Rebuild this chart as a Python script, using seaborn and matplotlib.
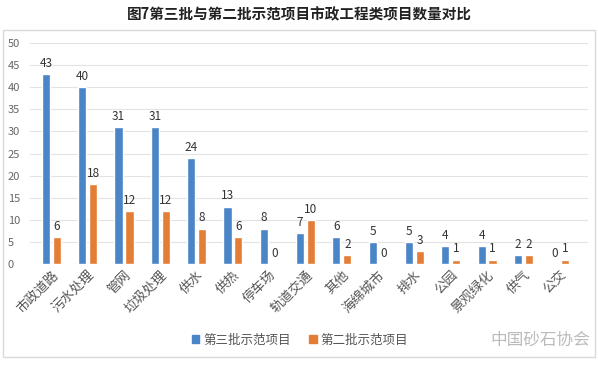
import pandas as pd
import matplotlib
matplotlib.use("Agg")
import matplotlib.pyplot as plt
import seaborn as sns
from matplotlib.patches import Rectangle

# ------------------------------------------------------
# Data
# ------------------------------------------------------
categories = ["市政道路", "污水处理", "管网", "垃圾处理", "供水", "供热", "停车场",
              "轨道交通", "其他", "海绵城市", "排水", "公园", "景观绿化", "供气", "公交"]
batch3 = [43, 40, 31, 31, 24, 13, 8, 7, 6, 5, 5, 4, 4, 2, 0]
batch2 = [6, 18, 12, 12, 8, 6, 0, 10, 2, 0, 3, 1, 1, 2, 1]
series_names = ["第三批示范项目", "第二批示范项目"]
yticks = [0, 5, 10, 15, 20, 25, 30, 35, 40, 45, 50]

BLUE = "#4A85C8"
ORANGE = "#E47D36"

df = pd.DataFrame({
    "category": categories * 2,
    "count": batch3 + batch2,
    "series": [series_names[0]] * len(categories) + [series_names[1]] * len(categories),
})

# ------------------------------------------------------
# Plot
# ------------------------------------------------------
sns.set_style("white")
plt.rcParams["font.family"] = ["Noto Sans CJK SC", "DejaVu Sans"]

fig = plt.figure(figsize=(5.98, 3.66), dpi=100)
ax = fig.add_axes([30 / 598, 1 - 264 / 366, 558 / 598, (264 - 43) / 366])

sns.barplot(data=df, x="category", y="count", hue="series", order=categories,
            hue_order=series_names, palette=[BLUE, ORANGE], width=0.6, gap=0.25,
            ax=ax, legend=False, saturation=1)

for cont in ax.containers:
    ax.bar_label(cont, padding=3, fontsize=8.5, color="#333333")

ax.set_ylim(0, 50)
ax.set_xlim(-0.59, 14.78)
ax.set_yticks(yticks)
ax.grid(axis="y", color="#E3E3E3", linewidth=0.8)
ax.set_axisbelow(True)
for s in ax.spines.values():
    s.set_visible(False)
ax.set_xlabel("")
ax.set_ylabel("")
ax.tick_params(axis="y", labelsize=8, colors="#666666", length=0, pad=16)
ax.tick_params(axis="x", length=0, pad=3)
plt.setp(ax.get_xticklabels(), rotation=45, ha="right", rotation_mode="anchor",
         fontsize=9.5, color="#555555")
for lbl in ax.get_yticklabels():
    lbl.set_horizontalalignment("left")

# title
fig.text(0.5, 1 - 14 / 366, "图7第三批与第二批示范项目市政工程类项目数量对比",
         ha="center", va="center", fontsize=10.5, fontweight="bold", color="#222222")

# chart frame
fig.patches.append(Rectangle((3 / 598, 1 - 357 / 366), 592 / 598, 327 / 366,
                             transform=fig.transFigure, fill=False,
                             edgecolor="#D9D9D9", linewidth=1))

# legend
handles = [Rectangle((0, 0), 1, 1, color=BLUE), Rectangle((0, 0), 1, 1, color=ORANGE)]
fig.legend(handles, series_names, loc="center", bbox_to_anchor=(300 / 598, 1 - 340 / 366),
           ncol=2, frameon=False, fontsize=9, handlelength=0.6, handleheight=0.6,
           handletextpad=0.3, columnspacing=1.5, labelcolor="#555555")

# watermark
fig.text(590 / 598, 1 - 340 / 366, "中国砂石协会", ha="right", va="center",
         fontsize=12, color="#BBBBBB")

fig.savefig("out.png", dpi=100)
